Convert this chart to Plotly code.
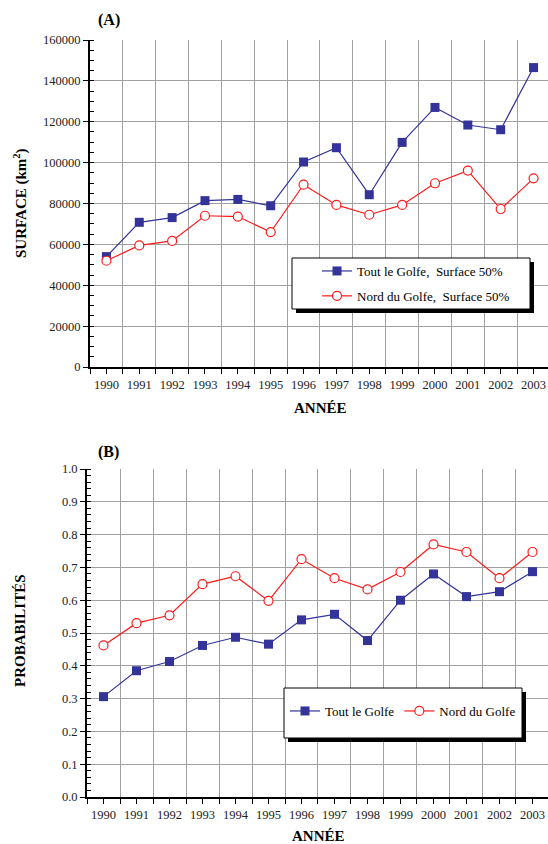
import plotly.graph_objects as go

# ---------------- data ----------------
years = [1990, 1991, 1992, 1993, 1994, 1995, 1996, 1997, 1998, 1999, 2000, 2001, 2002, 2003]
surf_tout = [54000, 70800, 73100, 81400, 82000, 78900, 100300, 107300, 84300, 109900, 127000, 118400, 116100, 146500]
surf_nord = [52000, 59500, 61700, 74000, 73600, 66000, 89200, 79300, 74500, 79300, 89900, 96100, 77300, 92300]
prob_tout = [0.306, 0.385, 0.413, 0.462, 0.487, 0.466, 0.540, 0.557, 0.477, 0.600, 0.680, 0.611, 0.626, 0.687]
prob_nord = [0.462, 0.530, 0.554, 0.649, 0.673, 0.598, 0.725, 0.667, 0.633, 0.686, 0.770, 0.747, 0.667, 0.747]
half_years = [y + 0.5 for y in range(1989, 2003)]

W, H = 548, 844
def px(x):
    return x / W
def py(y):
    return 1 - y / H

BLUE = "#333399"
RED = "#ff1a1a"
GRID = "#a0a0a0"
FONT = "Liberation Serif"

fig = go.Figure()

fig.add_trace(go.Scatter(x=years, y=surf_tout, mode="lines+markers", name="Tout le Golfe,  Surface 50%",
                         line=dict(color=BLUE, width=1.2), legendgroup="a1",
                         marker=dict(symbol="square", size=9, color=BLUE, line=dict(width=0)),
                         xaxis="x", yaxis="y", legend="legend"))
fig.add_trace(go.Scatter(x=years, y=surf_nord, mode="lines+markers", name="Nord du Golfe,  Surface 50%",
                         line=dict(color=RED, width=1.2), legendgroup="a2",
                         marker=dict(symbol="circle", size=9, color="white", line=dict(color=RED, width=1.2)),
                         xaxis="x", yaxis="y", legend="legend"))
fig.add_trace(go.Scatter(x=years, y=prob_tout, mode="lines+markers", name="Tout le Golfe",
                         line=dict(color=BLUE, width=1.2),
                         marker=dict(symbol="square", size=9, color=BLUE, line=dict(width=0)),
                         xaxis="x2", yaxis="y2", legend="legend2"))
fig.add_trace(go.Scatter(x=years, y=prob_nord, mode="lines+markers", name="Nord du Golfe",
                         line=dict(color=RED, width=1.2),
                         marker=dict(symbol="circle", size=9, color="white", line=dict(color=RED, width=1.2)),
                         xaxis="x2", yaxis="y2", legend="legend2"))

tickfont = dict(family=FONT, size=12.5, color="#222")

def xax(domain, rng, anchor):
    return dict(domain=domain, range=rng, anchor=anchor, automargin=False, tickmode="array", tickvals=years,
                ticktext=[str(y) for y in years], ticks="outside", ticklen=5, tickcolor="black",
                tickwidth=1, showline=True, linecolor="black", linewidth=2, showgrid=False,
                zeroline=False, tickfont=tickfont,
                minor=dict(tickmode="array", tickvals=half_years, showgrid=True, gridcolor=GRID,
                           gridwidth=1, ticks="outside", ticklen=5, tickcolor="black"))

def yax(domain, rng, anchor, dtick, mdtick, fmt):
    return dict(domain=domain, range=rng, anchor=anchor, automargin=False, tickmode="linear", tick0=0, dtick=dtick,
                tickformat=fmt, ticks="outside", ticklen=5, tickcolor="black", tickwidth=1,
                showline=True, linecolor="black", linewidth=2, showgrid=True, gridcolor=GRID,
                gridwidth=1, zeroline=False, tickfont=tickfont,
                minor=dict(tickmode="linear", tick0=0, dtick=mdtick, ticks="inside", ticklen=4,
                           tickcolor="black", showgrid=False))

legfont = dict(family=FONT, size=13, color="black")

def ann(text, x, y, angle=0, size=15):
    return dict(text=text, x=px(x), y=py(y), xref="paper", yref="paper", showarrow=False,
                xanchor="center", yanchor="middle", textangle=angle,
                font=dict(family=FONT, size=size, color="black"))

annotations = [
    ann("<b>(A)</b>", 109, 20, size=16),
    ann("<b>(B)</b>", 108, 452, size=16),
    ann("<b>SURFACE (km<sup>2</sup>)</b>", 20, 203, angle=-90),
    ann("<b>PROBABILITÉS</b>", 20, 631, angle=-90),
    ann("<b>ANNÉE</b>", 320, 408),
    ann("<b>ANNÉE</b>", 318, 836),
]

def box(x0, y0, x1, y1):
    return [
        dict(type="rect", xref="paper", yref="paper", x0=px(x0 + 4), x1=px(x1 + 4), y0=py(y1 + 4), y1=py(y0 + 4),
             fillcolor="black", line=dict(width=0), layer="above"),
        dict(type="rect", xref="paper", yref="paper", x0=px(x0), x1=px(x1), y0=py(y1), y1=py(y0),
             fillcolor="white", line=dict(color="black", width=1), layer="above"),
    ]

shapes = box(292, 258, 530, 309) + box(284, 688, 522, 738)

fig.update_layout(
    width=W, height=H, margin=dict(l=0, r=0, t=0, b=0),
    paper_bgcolor="white", plot_bgcolor="white",
    xaxis=xax([px(90), 1], [1989.5, 2003.44], "y"),
    yaxis=yax([py(367), py(40)], [0, 160000], "x", 20000, 5000, "d"),
    xaxis2=xax([px(87), 1], [1989.5, 2003.47], "y2"),
    yaxis2=yax([py(797), py(469)], [0, 1], "x2", 0.1, 0.02, ".1f"),
    legend=dict(x=px(317), y=py(256), xanchor="left", yanchor="top", bgcolor="rgba(0,0,0,0)",
                borderwidth=0, font=legfont, traceorder="grouped", tracegroupgap=5),
    legend2=dict(x=px(285), y=py(696), xanchor="left", yanchor="top", orientation="h",
                 bgcolor="rgba(0,0,0,0)", borderwidth=0, font=legfont),
    annotations=annotations, shapes=shapes, showlegend=True,
)

fig.write_html("out.html")
